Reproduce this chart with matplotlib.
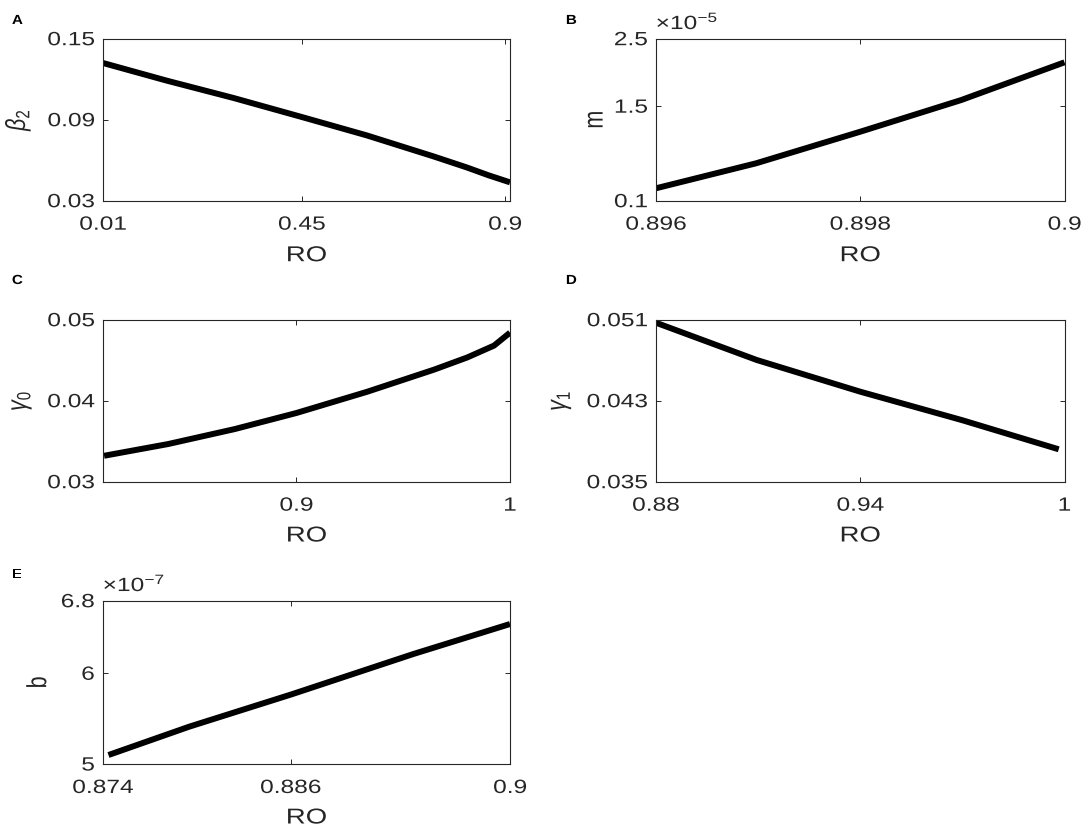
import numpy as np
import matplotlib
matplotlib.use("Agg")
import matplotlib.pyplot as plt
from matplotlib.patheffects import AbstractPathEffect
from matplotlib.transforms import Affine2D

plt.rcParams['font.family'] = ['Liberation Sans', 'DejaVu Sans']
plt.rcParams['mathtext.fontset'] = 'custom'
plt.rcParams['mathtext.rm'] = 'Liberation Sans'
plt.rcParams['mathtext.it'] = 'Liberation Sans:italic'

# ---- data ----
ro_A = [0.01, 0.1515, 0.2988, 0.45, 0.5937, 0.7409, 0.8148, 0.8636, 0.911]
beta2 = [0.132, 0.1189, 0.1061, 0.092, 0.0784, 0.0629, 0.0547, 0.0488, 0.0436]

ro_B = [0.896, 0.89698, 0.898, 0.89899, 0.9]
m_vals = [0.284, 0.654, 1.122, 1.592, 2.15]  # x 1e-5

ro_C = [0.81, 0.84, 0.8712, 0.9, 0.9331, 0.9644, 0.98, 0.9925, 1.0]
gamma0 = [0.0332, 0.03465, 0.0365, 0.03848, 0.0411, 0.04383, 0.04534, 0.0468, 0.0484]

ro_D = [0.88, 0.9096, 0.94, 0.9698, 0.9983]
gamma1 = [0.0507, 0.04702, 0.04389, 0.04109, 0.0382]

ro_E = [0.87435, 0.8795, 0.88605, 0.89382, 0.9]
b_vals = [5.099, 5.411, 5.768, 6.212, 6.543]  # x 1e-7

W, H = 1084, 838
SX = 1.28         # horizontal stretch of the lettering seen in the reference
TICK_FS = 13.8
LAB_FS = 15.5
tc = '#262626'


class HStretch(AbstractPathEffect):
    """Draw text stretched horizontally about an anchor edge."""
    def __init__(self, sx=SX, anchor='center'):
        super().__init__()
        self.sx = sx
        self.anchor = anchor

    def draw_path(self, renderer, gc, tpath, affine, rgbFace=None):
        ext = tpath.get_extents(affine)
        if self.anchor == 'left':
            cx = ext.x0
        elif self.anchor == 'right':
            cx = ext.x1
        else:
            cx = 0.5 * (ext.x0 + ext.x1)
        aff = affine + Affine2D().translate(-cx, 0).scale(self.sx, 1).translate(cx, 0)
        renderer.draw_path(gc, tpath, aff, rgbFace)


fig = plt.figure(figsize=(W / 100, H / 100), dpi=100)


def make_ax(left_px, top_px, right_px, bottom_px):
    return fig.add_axes([left_px / W, 1 - bottom_px / H,
                         (right_px - left_px) / W, (bottom_px - top_px) / H])


panels = [
    dict(rect=(103, 38.7, 510, 200.7), x=ro_A, y=beta2, xlim=(0.01, 0.911), ylim=(0.03, 0.15),
         xt=[0.01, 0.45, 0.9], xtl=['0.01', '0.45', '0.9'],
         yt=[0.03, 0.09, 0.15], ytl=['0.03', '0.09', '0.15'],
         ylabel=r'$\beta_2$', ylab_x=18, xlab_y=255.7, letter='A', let_xy=(12, 21), exp=None),
    dict(rect=(656, 38.7, 1064.5, 200.7), x=ro_B, y=m_vals, xlim=(0.896, 0.9), ylim=(0.1, 2.5),
         xt=[0.896, 0.898, 0.9], xtl=['0.896', '0.898', '0.9'],
         yt=[0.1, 1.5, 2.5], ytl=['0.1', '1.5', '2.5'],
         ylabel='m', ylab_x=595.5, xlab_y=255.7, letter='B', let_xy=(566, 21),
         exp=r'$\times$10$^{-5}$'),
    dict(rect=(103, 319.7, 510, 481.7), x=ro_C, y=gamma0, xlim=(0.8095, 1.0), ylim=(0.03, 0.05),
         xt=[0.9, 1.0], xtl=['0.9', '1'],
         yt=[0.03, 0.04, 0.05], ytl=['0.03', '0.04', '0.05'],
         ylabel=r'$\gamma_0$', ylab_x=21.5, xlab_y=536, letter='C', let_xy=(12, 281), exp=None),
    dict(rect=(656, 319.7, 1064.5, 481.7), x=ro_D, y=gamma1, xlim=(0.88, 1.0), ylim=(0.035, 0.051),
         xt=[0.88, 0.94, 1.0], xtl=['0.88', '0.94', '1'],
         yt=[0.035, 0.043, 0.051], ytl=['0.035', '0.043', '0.051'],
         ylabel=r'$\gamma_1$', ylab_x=561, xlab_y=536, letter='D', let_xy=(566, 281), exp=None),
    dict(rect=(103, 600.7, 510, 764), x=ro_E, y=b_vals, xlim=(0.874, 0.9), ylim=(5.0, 6.8),
         xt=[0.874, 0.886, 0.9], xtl=['0.874', '0.886', '0.9'],
         yt=[5.0, 6.0, 6.8], ytl=['5', '6', '6.8'],
         ylabel='b', ylab_x=38.5, xlab_y=818, letter='E', let_xy=(12, 575),
         exp=r'$\times$10$^{-7}$'),
]

for p in panels:
    l, t, r, b = p['rect']
    wpx, hpx = r - l, b - t
    ax = make_ax(l, t, r, b)
    ax.plot(p['x'], p['y'], color='black', lw=4.3, solid_capstyle='butt',
            solid_joinstyle='round')
    ax.set_xlim(*p['xlim'])
    ax.set_ylim(*p['ylim'])
    ax.set_xticks(p['xt'])
    ax.set_xticklabels(p['xtl'])
    ax.set_yticks(p['yt'])
    ax.set_yticklabels(p['ytl'])
    ax.tick_params(direction='in', top=True, right=True, length=3.5, width=0.7,
                   labelsize=TICK_FS, colors=tc)
    ax.tick_params(axis='x', pad=11.5)
    ax.tick_params(axis='y', pad=6)
    for lbl in ax.get_xticklabels():
        lbl.set_path_effects([HStretch(anchor='center')])
    for lbl in ax.get_yticklabels():
        lbl.set_path_effects([HStretch(anchor='right')])
    for s in ax.spines.values():
        s.set_linewidth(0.8)
        s.set_color(tc)
    xl = ax.set_xlabel('RO', fontsize=LAB_FS, color=tc, va='center')
    xl.set_path_effects([HStretch(anchor='center')])
    ax.xaxis.set_label_coords(0.5, -(p['xlab_y'] - b) / hpx)
    yl = ax.set_ylabel(p['ylabel'], fontsize=LAB_FS, color=tc, va='center')
    yl.set_path_effects([HStretch(anchor='center')])
    ax.yaxis.set_label_coords((p['ylab_x'] - l) / wpx, 0.5)
    lx, ly = p['let_xy']
    fig.text(lx / W, 1 - ly / H, p['letter'], fontsize=9.5, fontweight='bold',
             ha='left', va='center', color='black',
             path_effects=[HStretch(sx=1.15, anchor='left')])
    if p['exp']:
        ax.text(0.0, 1 + 9.5 / hpx, p['exp'], transform=ax.transAxes, fontsize=TICK_FS,
                ha='left', va='baseline', color=tc,
                path_effects=[HStretch(anchor='left')])

fig.savefig('out.png', dpi=100)
